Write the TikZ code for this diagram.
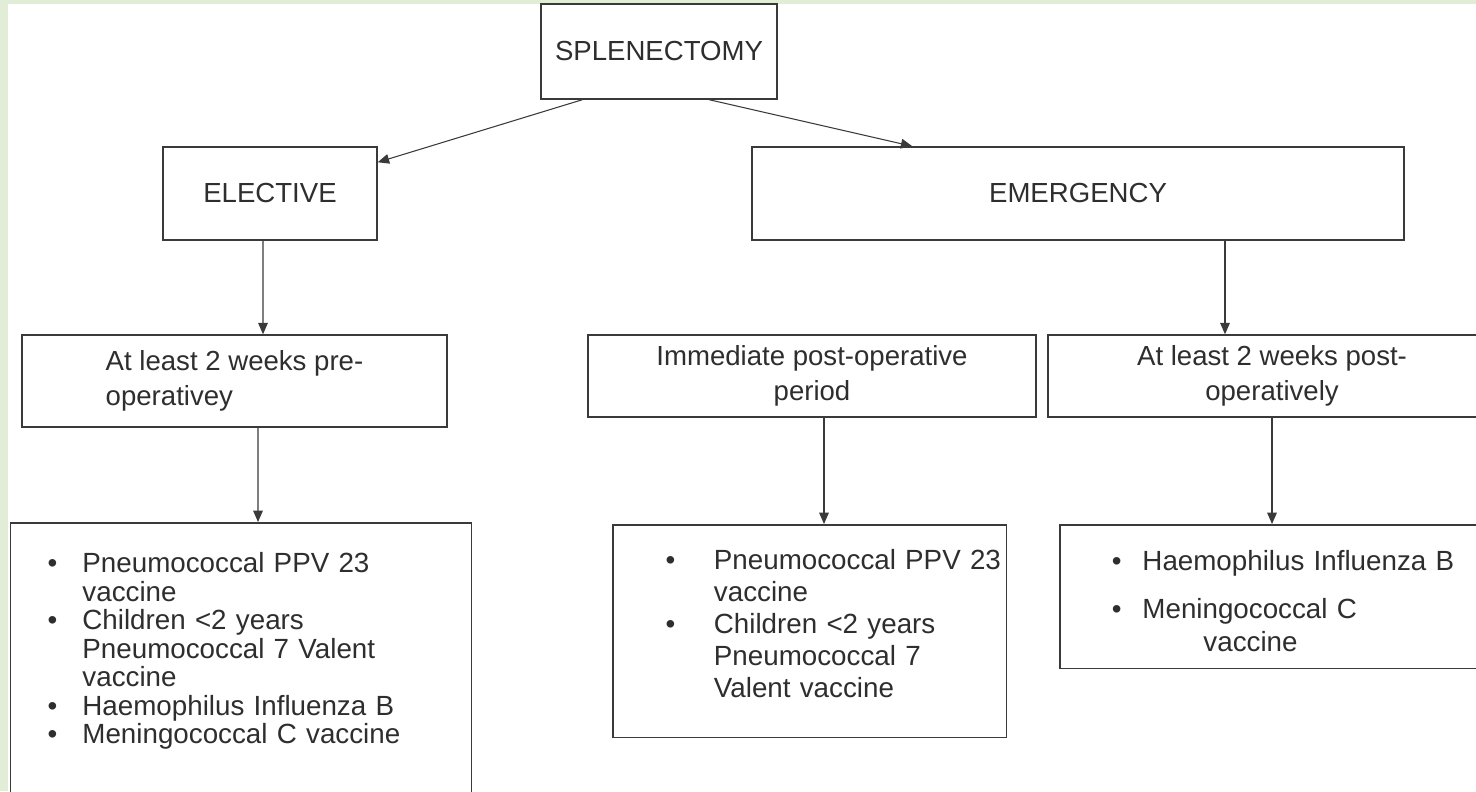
\documentclass[tikz,border=0pt]{standalone}
\usepackage{fontspec}
\setmainfont{Liberation Sans}
\usetikzlibrary{arrows.meta,calc,positioning}

\definecolor{pagegreen}{HTML}{E1EDD6}
\definecolor{inkgray}{HTML}{3A3A3A}
\definecolor{textgray}{HTML}{2E2E2E}

\tikzset{
  box/.style={draw=inkgray, line width=0.85pt, rectangle, inner sep=0pt,
    text=textgray, font=\fontsize{15.7}{20}\selectfont},
  listbox/.style={box, anchor=north west, align=left},
  link/.style={->, draw=inkgray, line width=0.6pt},
}

\begin{document}
\begin{tikzpicture}[x=0.02cm,y=-0.02cm,>={Triangle[length=6.5pt,width=5.5pt]}]
  \useasboundingbox (0,0) rectangle (1476,791);
  \fill[pagegreen] (0,0) rectangle (1476,791);
  \fill[white] (8,4) rectangle (1476,791);

  % top level
  \node[box, minimum width=4.72cm, minimum height=1.9cm] (splen) at (659,51.5) {SPLENECTOMY};
  \node[box, minimum width=4.28cm, minimum height=1.86cm] (elect) at (270,193.5) {ELECTIVE};
  \node[box, minimum width=13.04cm, minimum height=1.86cm] (emerg) at (1078,193.5) {EMERGENCY};

  % timing
  \node[box, align=left, minimum width=8.5cm, minimum height=1.84cm] (preop) at (234.5,381)
    {At least 2 weeks pre-\\operativey};
  \node[box, align=center, minimum width=8.96cm, minimum height=1.64cm] (immed) at (812,376)
    {Immediate post-operative\\period};
  \node[box, align=center, minimum width=8.96cm, minimum height=1.64cm] (postop) at (1272,376)
    {At least 2 weeks post-\\operatively};

  % vaccines
  \node[listbox, inner xsep=0.74cm, inner ysep=0.6cm, text width=7.74cm,
    font=\fontsize{15.8}{15.8}\selectfont] (listA) at (10,522) {%
    \begin{tabular}{@{}l@{\hspace{0.5cm}}l@{}}
      \textbullet & Pneumococcal PPV 23\\
                  & vaccine\\
      \textbullet & Children <2 years\\
                  & Pneumococcal 7 Valent\\
                  & vaccine\\
      \textbullet & Haemophilus Influenza B\\
      \textbullet & Meningococcal C vaccine\\[1.2cm]
    \end{tabular}};
  \node[listbox, inner xsep=1.06cm, inner ysep=0.45cm, text width=5.76cm,
    font=\fontsize{15.8}{18.2}\selectfont] (listB) at (612,524) {%
    \begin{tabular}{@{}l@{\hspace{0.77cm}}l@{}}
      \textbullet & Pneumococcal PPV 23\\
                  & vaccine\\
      \textbullet & Children <2 years\\
                  & Pneumococcal 7\\
                  & Valent vaccine\\[0.16cm]
    \end{tabular}};
  \node[listbox, inner xsep=1.04cm, inner ysep=0.14cm, text width=6.9cm,
    font=\fontsize{15.8}{18.8}\selectfont] (listC) at (1059,524) {%
    \begin{tabular}{@{}l@{\hspace{0.42cm}}l@{}}
      \textbullet & \rule{0pt}{0.78cm}Haemophilus Influenza B\\[0.3cm]
      \textbullet & Meningococcal C\\
                  & \hspace{1.22cm}vaccine
    \end{tabular}};

  % arrows
  \draw[link] ($(splen.south west)+(42,0)$) -- ($(elect.north east)+(0,16)$);
  \draw[link] ($(splen.south west)+(169,0)$) -- ($(emerg.north west)+(161,0)$);
  \draw[link] ($(elect.south)+(-7,0)$) -- ($(preop.north)+(28.5,0)$);
  \draw[link] ($(emerg.south)+(147,0)$) -- ($(postop.north)+(-47,0)$);
  \draw[link] ($(preop.south)+(23.5,0)$) -- ($(listA.north west)+(248,0)$);
  \draw[link] ($(immed.south)+(12,0)$) -- ($(listB.north west)+(212,0)$);
  \draw[link] (postop.south) -- ($(listC.north west)+(213,0)$);
\end{tikzpicture}
\end{document}
